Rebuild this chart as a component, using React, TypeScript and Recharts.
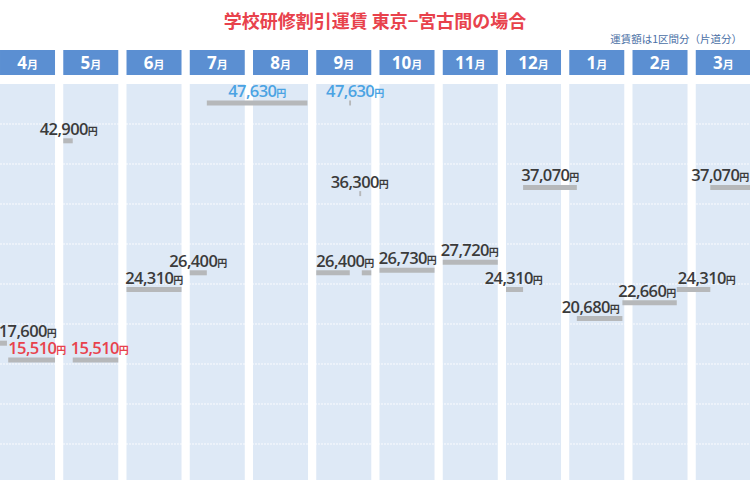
import React from 'react'
import {
  ComposedChart, Line, Scatter, XAxis, YAxis, ReferenceArea, ReferenceLine,
} from 'recharts'

// months, April first (x axis: one unit per month column)
const months = ['4', '5', '6', '7', '8', '9', '10', '11', '12', '1', '2', '3']

// fare periods: start / end on the month axis, fare in yen
const segStart = [0, 0.13, 1.0, 1.15, 2.0, 3.0, 3.27, 5.0, 5.52, 5.68, 5.72, 6.0, 7.0, 8.0, 8.27, 9.12, 9.84, 10.7, 11.23]
const segEnd = [0.11, 0.87, 1.15, 1.87, 2.87, 3.27, 4.86, 5.53, 5.55, 5.71, 5.87, 6.87, 7.87, 8.27, 9.12, 9.84, 10.7, 11.23, 11.87]
const segFare = [17600, 15510, 42900, 15510, 24310, 26400, 47630, 26400, 47630, 36300, 26400, 26730, 27720, 24310, 37070, 20680, 22660, 24310, 37070]

// price labels: where on the month axis, which fare, tone (n = normal, low = cheapest, high = peak)
const labelAt = [0.435, 0.585, 1.083, 1.573, 2.435, 3.13, 4.063, 5.61, 5.684, 5.455, 6.443, 7.423, 8.119, 8.696, 9.336, 10.229, 11.17, 11.383]
const labelFare = [17600, 15510, 42900, 15510, 24310, 26400, 47630, 47630, 36300, 26400, 26730, 27720, 24310, 37070, 20680, 22660, 24310, 37070]
const labelTone = ['n', 'low', 'n', 'low', 'n', 'n', 'high', 'high', 'n', 'n', 'n', 'n', 'n', 'n', 'n', 'n', 'n', 'n']

const gridValues = [5000, 10000, 15000, 20000, 25000, 30000, 35000, 40000, 45000]

const COL = 0.87
const toneColor: Record<string, string> = { n: '#3b3b3b', low: '#e8424c', high: '#4ba3e3' }
const numFont = "'Open Sans', 'Noto Sans CJK JP', sans-serif"

const labels = labelAt.map((x, i) => ({ x, y: labelFare[i], tone: labelTone[i] }))

const MonthTick = ({ x, y, payload }: any) => {
  const i = Math.round(payload.value - COL / 2)
  return (
    <g>
      <rect x={x - 27.5} y={y - 32} width={55} height={25} fill='#5b8fd2' />
      <text x={x} y={y - 13} textAnchor='middle' fill='#fff' fontFamily={numFont} fontWeight={700}>
        <tspan fontSize={17}>{months[i]}</tspan>
        <tspan fontSize={11}>月</tspan>
      </text>
    </g>
  )
}

const PriceLabel = ({ cx, cy, payload }: any) => (
  <text
    x={cx}
    y={cy - 6}
    textAnchor='middle'
    fill={toneColor[payload.tone]}
    fontFamily={numFont}
    fontWeight={600}
    letterSpacing={-0.6}
  >
    <tspan fontSize={16.5}>{payload.y.toLocaleString('en-US')}</tspan>
    <tspan fontSize={10}>円</tspan>
  </text>
)

export default function App() {
  return (
    <div style={{ position: 'absolute', left: 0, top: 0, width: 750, height: 486, overflow: 'hidden', background: '#fff' }}>
      <div style={{
        position: 'absolute', left: 0, top: 7, width: 750, textAlign: 'center',
        color: '#e8424c', fontFamily: "'Noto Sans CJK JP', sans-serif", fontWeight: 700, fontSize: 18,
      }}>
        学校研修割引運賃 東京−宮古間の場合
      </div>
      <div style={{
        position: 'absolute', right: 8, top: 31,
        color: '#4a6fa5', fontFamily: "'Noto Sans CJK JP', sans-serif", fontSize: 10.5,
      }}>
        運賃額は1区間分（片道分）
      </div>
      <ComposedChart width={759} height={486} margin={{ top: 52, right: 0, left: 0, bottom: 2 }}>
        <XAxis
          type='number'
          dataKey='x'
          orientation='top'
          domain={[0, 12]}
          ticks={months.map((_, i) => i + COL / 2)}
          tick={<MonthTick />}
          axisLine={false}
          tickLine={false}
          tickSize={0}
          height={32}
          allowDataOverflow
        />
        <YAxis type='number' dataKey='y' domain={[0, 50000]} hide allowDataOverflow />
        {months.map((m, i) => (
          <ReferenceArea key={'c' + m} x1={i} x2={i + COL} y1={500} y2={50000} fill='#dee9f6' fillOpacity={1} stroke='none' />
        ))}
        {gridValues.map(v => (
          <ReferenceLine key={'g' + v} y={v} stroke='#ffffff' strokeOpacity={0.85} strokeDasharray='2 1' />
        ))}
        {segFare.map((f, i) => (
          <Line
            key={'s' + i}
            data={[{ x: segStart[i], y: f }, { x: segEnd[i], y: f }]}
            dataKey='y'
            stroke='#b6b8ba'
            strokeWidth={5}
            dot={false}
            activeDot={false}
            isAnimationActive={false}
          />
        ))}
        <Scatter data={labels} dataKey='y' shape={<PriceLabel />} isAnimationActive={false} />
      </ComposedChart>
    </div>
  )
}
